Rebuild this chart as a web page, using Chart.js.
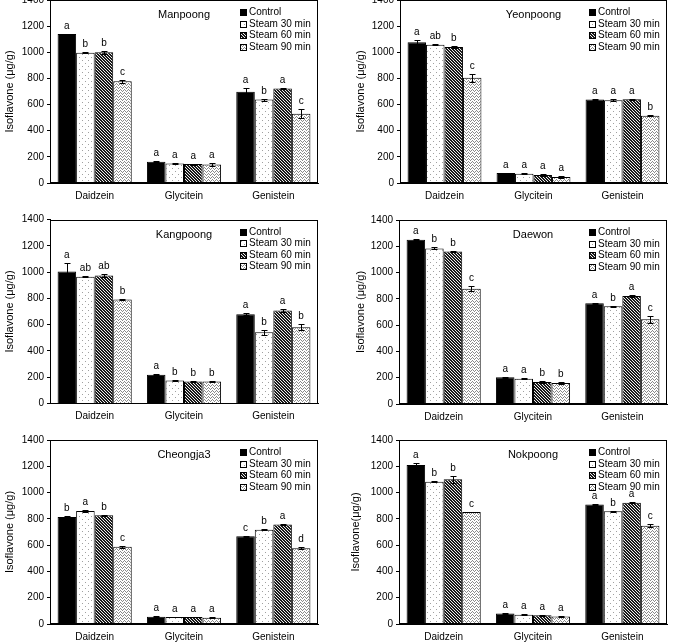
<!DOCTYPE html>
<html>
<head>
<meta charset="utf-8">
<script src="https://cdn.jsdelivr.net/npm/chart.js@4.4.1/dist/chart.umd.min.js"></script>
<style>
  html, body { margin: 0; padding: 0; background: #fff; overflow: hidden; }
  #wrap { position: relative; width: 673px; height: 642px; overflow: hidden; }
  #wrap canvas { position: absolute; }
</style>
</head>
<body>
<div id="wrap"></div>
<script>
// Datos comunes
const categories = ['Daidzein', 'Glycitein', 'Genistein'];
const treatments = ['Control', 'Steam 30 min', 'Steam 60 min', 'Steam 90 min'];
const yMin = 0, yMax = 1400, yStep = 200;

// Valores por tratamiento (filas) y compuesto (columnas)
const manpoongMean = [[1139, 163, 699], [997, 150, 638], [1000, 145, 722], [778, 142, 529]];
const manpoongErr = [[4, 4, 25], [5, 3, 8], [10, 4, 5], [12, 10, 35]];
const manpoongLetters = [['a', 'a', 'a'], ['b', 'a', 'b'], ['b', 'a', 'a'], ['c', 'a', 'c']];

const yeonpoongMean = [[1076, 76, 638], [1058, 71, 633], [1040, 61, 641], [806, 46, 514]];
const yeonpoongErr = [[15, 3, 3], [3, 3, 8], [5, 5, 5], [30, 5, 4]];
const yeonpoongLetters = [['a', 'a', 'a'], ['ab', 'a', 'a'], ['b', 'a', 'a'], ['c', 'a', 'b']];

const kangpoongMean = [[1004, 218, 680], [964, 175, 543], [974, 167, 708], [791, 167, 581]];
const kangpoongErr = [[62, 3, 8], [4, 3, 20], [8, 3, 8], [5, 4, 22]];
const kangpoongLetters = [['a', 'a', 'a'], ['ab', 'b', 'b'], ['ab', 'b', 'a'], ['b', 'b', 'b']];

const daewonMean = [[1250, 203, 767], [1184, 193, 744], [1161, 168, 821], [877, 160, 645]];
const daewonErr = [[3, 3, 5], [8, 5, 3], [5, 5, 5], [20, 8, 28]];
const daewonLetters = [['a', 'a', 'a'], ['b', 'a', 'b'], ['b', 'b', 'a'], ['c', 'b', 'c']];

const cheongjaMean = [[814, 56, 667], [860, 53, 718], [827, 53, 758], [588, 48, 576]];
const cheongjaErr = [[5, 2, 3], [8, 2, 5], [3, 2, 3], [8, 2, 8]];
const cheongjaLetters = [['b', 'a', 'c'], ['a', 'a', 'b'], ['b', 'a', 'a'], ['c', 'a', 'd']];

const nokpoongMean = [[1210, 79, 910], [1083, 71, 857], [1101, 66, 923], [852, 58, 748]];
const nokpoongErr = [[12, 3, 3], [5, 3, 3], [25, 3, 5], [3, 3, 12]];
const nokpoongLetters = [['a', 'a', 'a'], ['b', 'a', 'b'], ['b', 'a', 'a'], ['c', 'a', 'c']];

const FONT = '"Liberation Sans", Arial, sans-serif';
Chart.defaults.font.family = FONT;
Chart.defaults.color = '#000';

// Rellenos con textura para cada tratamiento
function makePattern(kind) {
    if (kind === 'solid') return '#000';
    const c = document.createElement('canvas');
    let ctx;
    if (kind === 'dots') {
        c.width = 6; c.height = 6;
        ctx = c.getContext('2d');
        ctx.fillStyle = '#fff'; ctx.fillRect(0, 0, 6, 6);
        ctx.fillStyle = '#a0a0a0';
        ctx.fillRect(1, 1, 1, 1); ctx.fillRect(4, 4, 1, 1);
    } else if (kind === 'hatch') {
        c.width = 3; c.height = 3;
        ctx = c.getContext('2d');
        ctx.fillStyle = '#eee'; ctx.fillRect(0, 0, 3, 3);
        ctx.fillStyle = '#1a1a1a';
        for (let x = 0; x < 3; x++) for (let y = 0; y < 3; y++) {
            if (((x - y) % 3 + 3) % 3 < 2) ctx.fillRect(x, y, 1, 1);
        }
    } else {
        c.width = 4; c.height = 3;
        ctx = c.getContext('2d');
        ctx.fillStyle = '#fff'; ctx.fillRect(0, 0, 4, 3);
        ctx.fillStyle = '#8a8a8a';
        ctx.fillRect(0, 0, 1, 1); ctx.fillRect(1, 1, 1, 1);
        ctx.fillRect(2, 2, 1, 1); ctx.fillRect(3, 1, 1, 1);
    }
    return ctx.createPattern(c, 'repeat');
}
const fills = [makePattern('solid'), makePattern('dots'), makePattern('hatch'), makePattern('zigzag')];

// Barras de error, letras, título, leyenda y marco
const panelDecor = {
    id: 'panelDecor',
    afterDatasetsDraw(chart, args, opts) {
        const ctx = chart.ctx;
        const y = chart.scales.y;
        const area = chart.chartArea;
        ctx.save();
        chart.data.datasets.forEach((ds, i) => {
            const meta = chart.getDatasetMeta(i);
            meta.data.forEach((bar, j) => {
                const v = ds.data[j], e = ds.errors[j];
                const yHi = Math.round(y.getPixelForValue(v + e)) + 0.5;
                const yLo = Math.round(y.getPixelForValue(v - e)) + 0.5;
                const x = Math.round(bar.x) + 0.5;
                ctx.strokeStyle = '#000'; ctx.lineWidth = 1;
                ctx.beginPath();
                ctx.moveTo(x, yHi); ctx.lineTo(x, yLo);
                ctx.moveTo(x - 3, yHi); ctx.lineTo(x + 3, yHi);
                ctx.moveTo(x - 3, yLo); ctx.lineTo(x + 3, yLo);
                ctx.stroke();
                ctx.fillStyle = '#000';
                ctx.font = '10px ' + FONT;
                ctx.textAlign = 'center'; ctx.textBaseline = 'bottom';
                ctx.fillText(ds.letters[j], bar.x, yHi - 3);
            });
        });
        // marco
        ctx.strokeStyle = '#000'; ctx.lineWidth = 1;
        const l = Math.round(area.left) + 0.5, t = Math.round(area.top) + 0.5;
        const r = Math.round(area.right) - 0.5, b = Math.round(area.bottom) - 0.5;
        ctx.strokeRect(l, t, r - l, b - t);
        // título
        ctx.font = '11px ' + FONT;
        ctx.textAlign = 'center'; ctx.textBaseline = 'middle';
        ctx.fillText(opts.title, (area.left + area.right) / 2, area.top + 15);
        // leyenda
        const lx = Math.round(area.right - 78), ly = area.top + 12;
        ctx.font = '10px ' + FONT;
        ctx.textAlign = 'left';
        chart.data.datasets.forEach((ds, i) => {
            const cy = Math.round(ly + i * 11.5);
            ctx.fillStyle = ds.backgroundColor;
            ctx.fillRect(lx, cy - 3, 7, 7);
            ctx.strokeStyle = '#000';
            ctx.strokeRect(lx + 0.5, cy - 2.5, 6, 6);
            ctx.fillStyle = '#000';
            ctx.fillText(ds.label, lx + 9, cy + 0.5);
        });
        ctx.restore();
    }
};

const panels = [
    { name: 'Manpoong', mean: manpoongMean, err: manpoongErr, letters: manpoongLetters, yTitle: 'Isoflavone (μg/g)',
      left: 0, top: -10, w: 336, h: 220, padL: 0, padT: 10, padR: 18, yw: 50, xh: 27 },
    { name: 'Yeonpoong', mean: yeonpoongMean, err: yeonpoongErr, letters: yeonpoongLetters, yTitle: 'Isoflavone (μg/g)',
      left: 336, top: -10, w: 337, h: 220, padL: 15, padT: 10, padR: 6, yw: 49, xh: 27 },
    { name: 'Kangpoong', mean: kangpoongMean, err: kangpoongErr, letters: kangpoongLetters, yTitle: 'Isoflavone (μg/g)',
      left: 0, top: 210, w: 336, h: 215, padL: 0, padT: 9.5, padR: 18, yw: 50, xh: 21.5 },
    { name: 'Daewon', mean: daewonMean, err: daewonErr, letters: daewonLetters, yTitle: 'Isoflavone (μg/g)',
      left: 336, top: 210, w: 337, h: 215, padL: 15, padT: 10, padR: 6, yw: 48, xh: 21 },
    { name: 'Cheongja3', mean: cheongjaMean, err: cheongjaErr, letters: cheongjaLetters, yTitle: 'Isoflavone (μg/g)',
      left: 0, top: 425, w: 336, h: 217, padL: 0, padT: 15, padR: 18, yw: 50, xh: 18 },
    { name: 'Nokpoong', mean: nokpoongMean, err: nokpoongErr, letters: nokpoongLetters, yTitle: 'Isoflavone(μg/g)',
      left: 336, top: 425, w: 337, h: 217, padL: 10, padT: 15, padR: 6, yw: 53, xh: 18 }
];

const wrap = document.getElementById('wrap');
panels.forEach(p => {
    const cv = document.createElement('canvas');
    cv.width = p.w; cv.height = p.h;
    cv.style.left = p.left + 'px'; cv.style.top = p.top + 'px';
    cv.style.width = p.w + 'px'; cv.style.height = p.h + 'px';
    wrap.appendChild(cv);

    new Chart(cv.getContext('2d'), {
        type: 'bar',
        data: {
            labels: categories,
            datasets: treatments.map((t, i) => ({
                label: t,
                data: p.mean[i],
                errors: p.err[i],
                letters: p.letters[i],
                backgroundColor: fills[i],
                borderColor: '#000',
                borderWidth: 1,
                categoryPercentage: 0.83,
                barPercentage: 1.0
            }))
        },
        options: {
            responsive: false,
            animation: false,
            devicePixelRatio: 1,
            layout: { padding: { left: p.padL, top: p.padT, right: p.padR, bottom: 0 } },
            plugins: {
                legend: { display: false },
                tooltip: { enabled: false },
                panelDecor: { title: p.name }
            },
            scales: {
                x: {
                    grid: { display: false, drawTicks: false },
                    border: { display: true, color: '#000' },
                    ticks: { font: { size: 10 }, color: '#000', padding: 7 },
                    afterFit(s) { s.height = p.xh; }
                },
                y: {
                    min: yMin, max: yMax,
                    grid: { drawOnChartArea: false, drawTicks: true, tickLength: 3, color: '#000' },
                    border: { display: true, color: '#000' },
                    ticks: { stepSize: yStep, font: { size: 10 }, color: '#000', padding: 3,
                             callback: v => String(v) },
                    title: { display: true, text: p.yTitle, font: { size: 11 }, color: '#000', padding: { top: 3, bottom: 0 } },
                    afterFit(s) { s.width = p.yw; }
                }
            }
        },
        plugins: [panelDecor]
    });
});
</script>
</body>
</html>
